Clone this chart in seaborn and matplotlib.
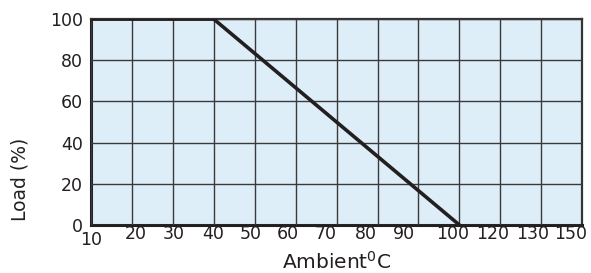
import matplotlib
matplotlib.use("Agg")
import matplotlib.pyplot as plt
import matplotlib.transforms as mtransforms
import seaborn as sns
import pandas as pd

# tick labels on the x axis (evenly spaced, not to scale)
x_labels = [10, 20, 30, 40, 50, 60, 70, 80, 90, 100, 120, 130, 150]
y_ticks = [0, 20, 40, 60, 80, 100]

# derating curve
ambient = [10, 40, 100]
load = [100, 100, 0]

# horizontal nudge (px) of each x tick label, as laid out in the original
x_label_shift = [0, 4, 1, -1, -4, -8, -11, -12, -14, -7, -8, -9, -12]


def main():
    sns.set_style("white")
    plt.rcParams['font.family'] = ['DejaVu Sans']

    df = pd.DataFrame({
        'pos': [x_labels.index(a) for a in ambient],
        'load': load,
    })

    fig = plt.figure(figsize=(5.91, 2.73), dpi=100)
    ax = fig.add_axes([0.154, 0.176, 0.831, 0.754])
    ax.set_facecolor('#deeef9')

    sns.lineplot(data=df, x='pos', y='load', ax=ax, color='#231f20',
                 linewidth=2.6, zorder=5)

    ax.set_xlim(0, len(x_labels) - 1)
    ax.set_ylim(0, 100)
    ax.set_xticks(range(len(x_labels)))
    ax.set_xticklabels([str(v) for v in x_labels])
    ax.set_yticks(y_ticks)
    ax.grid(True, color='#3a3a3a', linewidth=1.0)
    ax.set_axisbelow(False)

    ax.tick_params(axis='both', length=0, labelsize=12.5, colors='#231f20')
    ax.tick_params(axis='x', pad=0)
    ax.tick_params(axis='y', pad=6)
    labels = ax.get_xticklabels()
    for lab, dx in zip(labels, x_label_shift):
        lab.set_transform(lab.get_transform() +
                          mtransforms.ScaledTranslation(dx / 100, 0, fig.dpi_scale_trans))
    # the first label sits a little lower
    labels[0].set_y(-0.03)

    for side in ['left', 'bottom']:
        ax.spines[side].set_linewidth(2.2)
        ax.spines[side].set_color('#231f20')
    for side in ['top', 'right']:
        ax.spines[side].set_linewidth(1.6)
        ax.spines[side].set_color('#333333')

    ax.set_xlabel('Ambient$^{0}$C', fontsize=14.5, color='#231f20', labelpad=1)
    ax.set_ylabel('Load (%)', fontsize=13.5, color='#231f20')
    ax.yaxis.set_label_coords(-0.126, 0.223)

    fig.savefig('out.png', dpi=100)


if __name__ == '__main__':
    main()
